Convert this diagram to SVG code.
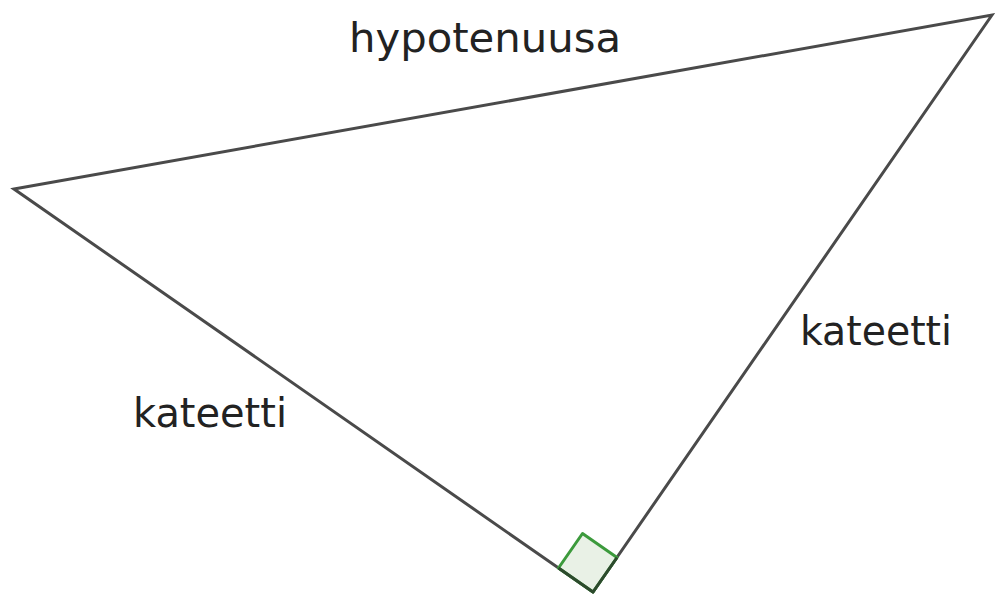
<svg xmlns="http://www.w3.org/2000/svg" width="995" height="597" viewBox="0 0 995 597">
<style>
.side{fill:none;stroke:#4a4a4a;stroke-width:3;stroke-linejoin:miter;stroke-linecap:round}
.mark{fill:#e9f1e6;stroke:#3c9a3c;stroke-width:3;stroke-linejoin:round}
.lbl{font-family:"DejaVu Sans","Liberation Sans",sans-serif;font-size:40px;fill:#222}
</style>
<rect width="995" height="597" fill="#ffffff"/>
<g id="triangle">
<polygon class="side" points="14,189 992,15 593,592"/>
</g>
<g id="right-angle">
<polygon class="mark" points="593,592 558.5,568 582.5,533.5 617,557.5"/>
<polyline points="558.5,568 593,592 617,557.5" fill="none" stroke="#2d4a2d" stroke-width="3" stroke-linejoin="round"/>
</g>
<g id="labels">
<text class="lbl" x="349" y="52" textLength="272" lengthAdjust="spacingAndGlyphs">hypotenuusa</text>
<text class="lbl" x="133" y="427" textLength="154" lengthAdjust="spacingAndGlyphs">kateetti</text>
<text class="lbl" x="800" y="345" textLength="152" lengthAdjust="spacingAndGlyphs">kateetti</text>
</g>
</svg>
